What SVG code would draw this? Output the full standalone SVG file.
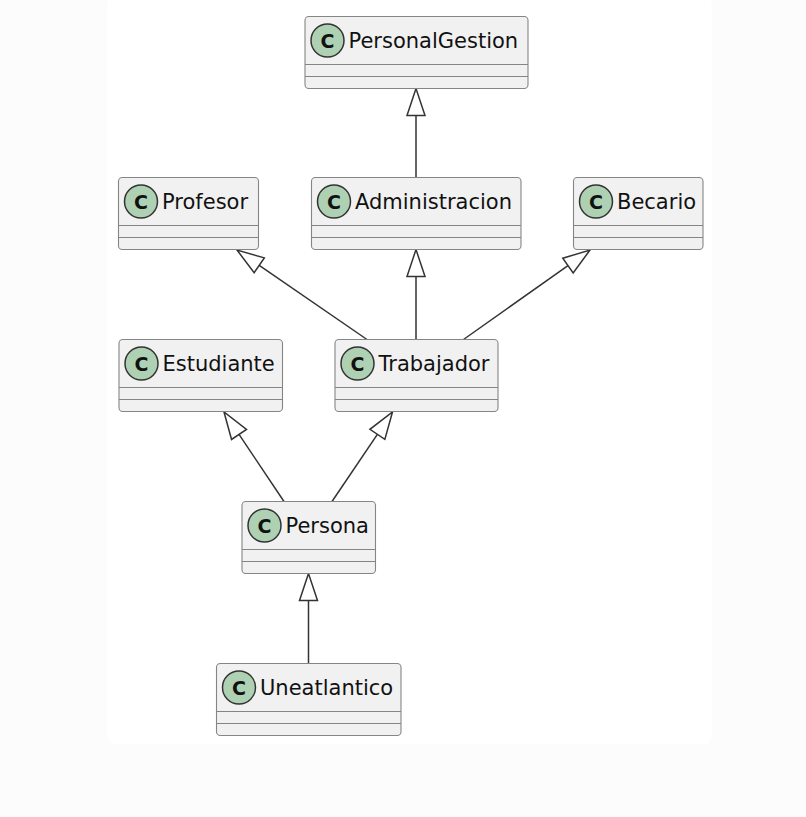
<svg xmlns="http://www.w3.org/2000/svg" width="806" height="817" viewBox="0 0 806 817">
<style>
.box{fill:#F1F1F1;stroke:#858585;stroke-width:1.1}
.sep{stroke:#858585;stroke-width:1.1}
.circ{fill:#ADD1B2;stroke:#333333;stroke-width:1.5}
.cl{font-family:"DejaVu Sans",sans-serif;font-size:19px;font-weight:bold;fill:#111;text-anchor:middle}
.name{font-family:"DejaVu Sans",sans-serif;font-size:21px;fill:#111}
.edge{stroke:#333333;stroke-width:1.5;fill:none}
.head{stroke:#333333;stroke-width:1.5;fill:none;stroke-linejoin:miter}
</style>
<rect x="0" y="0" width="806" height="817" fill="#FCFCFC"/>
<rect x="107.5" y="-6" width="604" height="750" rx="8" fill="#FFFFFF"/>

<g id="connectors">
  <line class="edge" x1="416" y1="177.5" x2="416" y2="115.5"/>
  <polygon class="head" points="416,88.5 407,115.5 425,115.5"/>

  <line class="edge" x1="367" y1="339.5" x2="259.24" y2="265.31"/>
  <polygon class="head" points="237,250 254.14,272.72 264.34,257.9"/>

  <line class="edge" x1="416" y1="339.5" x2="416" y2="276.5"/>
  <polygon class="head" points="416,249.5 407,276.5 425,276.5"/>

  <line class="edge" x1="463.5" y1="339.5" x2="567.96" y2="265.6"/>
  <polygon class="head" points="590,250 573.16,272.95 562.76,258.25"/>

  <line class="edge" x1="284" y1="501.5" x2="239.03" y2="434.43"/>
  <polygon class="head" points="224,412 231.55,439.44 246.51,429.42"/>

  <line class="edge" x1="332" y1="501.5" x2="377.38" y2="434.37"/>
  <polygon class="head" points="392.5,412 384.84,439.41 369.92,429.33"/>

  <line class="edge" x1="308.5" y1="663.5" x2="308.5" y2="600.5"/>
  <polygon class="head" points="308.5,573.5 299.5,600.5 317.5,600.5"/>
</g>

<g id="PersonalGestion">
  <rect class="box" x="305" y="16.5" width="223" height="72" rx="3.75"/>
  <circle class="circ" cx="327.5" cy="40.5" r="16.5"/>
  <text class="cl" x="327.5" y="47.5">C</text>
  <text class="name" x="348.5" y="47.8">PersonalGestion</text>
  <line class="sep" x1="305" y1="64.5" x2="528" y2="64.5"/>
  <line class="sep" x1="305" y1="76.5" x2="528" y2="76.5"/>
</g>

<g id="Profesor">
  <rect class="box" x="118.5" y="177.5" width="140" height="72" rx="3.75"/>
  <circle class="circ" cx="141" cy="201.5" r="16.5"/>
  <text class="cl" x="141" y="208.5">C</text>
  <text class="name" x="162" y="208.8">Profesor</text>
  <line class="sep" x1="118.5" y1="225.5" x2="258.5" y2="225.5"/>
  <line class="sep" x1="118.5" y1="237.5" x2="258.5" y2="237.5"/>
</g>

<g id="Administracion">
  <rect class="box" x="311.5" y="177.5" width="209.5" height="72" rx="3.75"/>
  <circle class="circ" cx="334" cy="201.5" r="16.5"/>
  <text class="cl" x="334" y="208.5">C</text>
  <text class="name" x="355" y="208.8">Administracion</text>
  <line class="sep" x1="311.5" y1="225.5" x2="521" y2="225.5"/>
  <line class="sep" x1="311.5" y1="237.5" x2="521" y2="237.5"/>
</g>

<g id="Becario">
  <rect class="box" x="573.5" y="177.5" width="129.5" height="72" rx="3.75"/>
  <circle class="circ" cx="596" cy="201.5" r="16.5"/>
  <text class="cl" x="596" y="208.5">C</text>
  <text class="name" x="617" y="208.8">Becario</text>
  <line class="sep" x1="573.5" y1="225.5" x2="703" y2="225.5"/>
  <line class="sep" x1="573.5" y1="237.5" x2="703" y2="237.5"/>
</g>

<g id="Estudiante">
  <rect class="box" x="119" y="339.5" width="163.5" height="72" rx="3.75"/>
  <circle class="circ" cx="141.5" cy="363.5" r="16.5"/>
  <text class="cl" x="141.5" y="370.5">C</text>
  <text class="name" x="162.5" y="370.8">Estudiante</text>
  <line class="sep" x1="119" y1="387.5" x2="282.5" y2="387.5"/>
  <line class="sep" x1="119" y1="399.5" x2="282.5" y2="399.5"/>
</g>

<g id="Trabajador">
  <rect class="box" x="335" y="339.5" width="163" height="72" rx="3.75"/>
  <circle class="circ" cx="357.5" cy="363.5" r="16.5"/>
  <text class="cl" x="357.5" y="370.5">C</text>
  <text class="name" x="378.5" y="370.8">Trabajador</text>
  <line class="sep" x1="335" y1="387.5" x2="498" y2="387.5"/>
  <line class="sep" x1="335" y1="399.5" x2="498" y2="399.5"/>
</g>

<g id="Persona">
  <rect class="box" x="242" y="501.5" width="133.5" height="72" rx="3.75"/>
  <circle class="circ" cx="264.5" cy="525.5" r="16.5"/>
  <text class="cl" x="264.5" y="532.5">C</text>
  <text class="name" x="285.5" y="532.8">Persona</text>
  <line class="sep" x1="242" y1="549.5" x2="375.5" y2="549.5"/>
  <line class="sep" x1="242" y1="561.5" x2="375.5" y2="561.5"/>
</g>

<g id="Uneatlantico">
  <rect class="box" x="216.5" y="663.5" width="184.5" height="72" rx="3.75"/>
  <circle class="circ" cx="239" cy="687.5" r="16.5"/>
  <text class="cl" x="239" y="694.5">C</text>
  <text class="name" x="260" y="694.8">Uneatlantico</text>
  <line class="sep" x1="216.5" y1="711.5" x2="401" y2="711.5"/>
  <line class="sep" x1="216.5" y1="723.5" x2="401" y2="723.5"/>
</g>
</svg>
